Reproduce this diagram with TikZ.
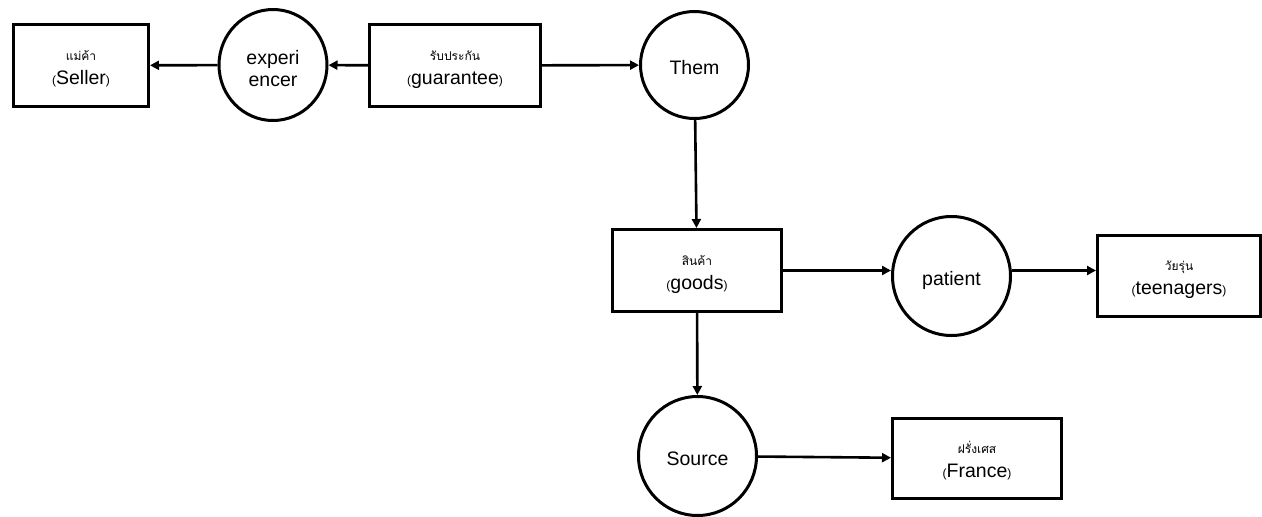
\documentclass[tikz,border=0pt]{standalone}
\usepackage{fontspec}
\setmainfont{Liberation Sans}
\newfontfamily\thaifont[Script=Thai]{Loma}
\usetikzlibrary{arrows.meta,positioning,shapes.geometric}

\newcommand{\thaiword}[1]{{\thaifont\fontsize{12}{14}\selectfont #1}}
\newcommand{\engword}[1]{{\fontsize{12}{14}\selectfont(}#1{\fontsize{12}{14}\selectfont)}}

\begin{document}
\begin{tikzpicture}[>={Triangle[length=9pt,width=9pt]}, x=1pt, y=-1pt,
  every node/.style={font=\fontsize{19.5}{22}\selectfont},
  box/.style={draw, line width=3pt, align=center, minimum height=82pt,
    text height=37pt, text depth=0pt},
  role/.style={draw, ellipse, line width=3pt, align=center, inner sep=0pt,
    text height=18pt, text depth=0pt},
  link/.style={->, line width=2.6pt}]
  \useasboundingbox (0,0) rectangle (1262,517);

  \node[box, minimum width=135pt] (seller) at (81,65.5)
    {\thaiword{แม่ค้า}\\[2pt]\engword{Seller}};
  \node[role, minimum width=108pt, minimum height=111pt, text height=42pt] (exper) at (273,65)
    {experi\\encer};
  \node[box, minimum width=171pt] (guarantee) at (455,65.5)
    {\thaiword{รับประกัน}\\[2pt]\engword{guarantee}};
  \node[role, minimum width=108pt, minimum height=107pt] (them) at (694.5,65) {Them};

  \node[box, minimum width=169pt] (goods) at (697,270.5)
    {\thaiword{สินค้า}\\[2pt]\engword{goods}};
  \node[role, minimum width=118pt, minimum height=119pt] (patient) at (951.5,276) {patient};
  \node[box, minimum width=163pt, minimum height=81pt] (teen) at (1179,276)
    {\thaiword{วัยรุ่น}\\[2pt]\engword{teenagers}};

  \node[role, minimum width=118pt, minimum height=119pt] (source) at (697.5,456) {Source};
  \node[box, minimum width=169pt, minimum height=80pt] (france) at (977,458.5)
    {\thaiword{ฝรั่งเศส}\\[2pt]\engword{France}};

  \draw[link] (guarantee) -- (exper);
  \draw[link] (exper) -- (seller);
  \draw[link] (guarantee) -- (them);
  \draw[link] (them) -- (goods);
  \draw[link] (goods.east) -- (goods.east -| patient.west);
  \draw[link] (patient.east |- goods.east) -- (goods.east -| teen.west);
  \draw[link] (goods) -- (source);
  \draw[link] (source) -- (france);
\end{tikzpicture}
\end{document}
